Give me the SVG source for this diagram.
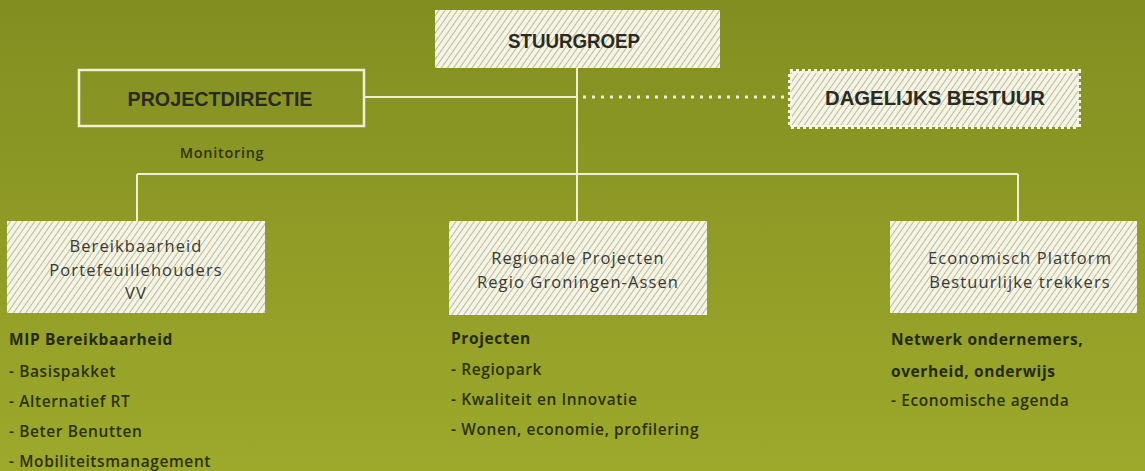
<svg xmlns="http://www.w3.org/2000/svg" width="1145" height="471" viewBox="0 0 1145 471">
<defs>
<linearGradient id="bg" x1="0" y1="0" x2="0" y2="1">
<stop offset="0" stop-color="#828e20"/>
<stop offset="1" stop-color="#9da92b"/>
</linearGradient>
<pattern id="hatch" width="5" height="5" patternUnits="userSpaceOnUse" patternTransform="rotate(35)">
<rect width="5" height="5" fill="#f6f5e4"/>
<line x1="0.5" y1="0" x2="0.5" y2="5" stroke="#b9b9a6" stroke-width="1"/>
</pattern>
<style>
.ln{stroke:#f1efcf;stroke-width:2;fill:none}
.dot{stroke:#f1efcf;stroke-width:3;stroke-dasharray:3 6;fill:none}
.hbox{fill:url(#hatch)}
.title{font-family:"Liberation Sans",Arial,sans-serif;font-weight:bold;font-size:20px;fill:#2a2a22;text-anchor:middle}
.btxt{font-family:"Open Sans","Liberation Sans",sans-serif;font-size:16.5px;letter-spacing:1.1px;fill:#3a3a33;text-anchor:middle}
.mon{font-family:"Open Sans","Liberation Sans",sans-serif;font-weight:600;font-size:14.5px;letter-spacing:0.7px;fill:#2e3210;text-anchor:middle}
.lh{font-family:"Open Sans","Liberation Sans",sans-serif;font-weight:bold;font-size:15.5px;letter-spacing:0.6px;fill:#262a0c}
.li{font-family:"Open Sans","Liberation Sans",sans-serif;font-weight:600;font-size:15.5px;letter-spacing:0.6px;fill:#2c300e}
</style>
</defs>
<rect width="1145" height="471" fill="url(#bg)"/>
<g id="connectors">
<line class="ln" x1="577" y1="68" x2="577" y2="221"/>
<line class="ln" x1="364" y1="97" x2="577" y2="97"/>
<line class="dot" x1="583" y1="97" x2="790" y2="97"/>
<line class="ln" x1="137" y1="174" x2="1018" y2="174"/>
<line class="ln" x1="137" y1="174" x2="137" y2="221"/>
<line class="ln" x1="1018" y1="174" x2="1018" y2="221"/>
</g>
<g id="stuurgroep">
<rect class="hbox" x="435" y="10" width="285" height="58"/>
<text class="title" x="574" y="48" textLength="132" lengthAdjust="spacingAndGlyphs">STUURGROEP</text>
</g>
<g id="projectdirectie">
<rect x="79" y="70" width="285" height="56" fill="none" stroke="#f1efcf" stroke-width="2.5"/>
<text class="title" x="220" y="106" textLength="185" lengthAdjust="spacingAndGlyphs">PROJECTDIRECTIE</text>
<text class="mon" x="222" y="158">Monitoring</text>
</g>
<g id="dagelijks">
<rect class="hbox" x="790" y="71" width="289" height="56" stroke="#f6f5e4" stroke-width="4" stroke-dasharray="3 3"/>
<text class="title" x="935" y="105" textLength="220" lengthAdjust="spacingAndGlyphs">DAGELIJKS BESTUUR</text>
</g>
<g id="bereikbaarheid">
<rect class="hbox" x="7" y="221" width="258" height="92"/>
<text class="btxt" x="136" y="252">Bereikbaarheid</text>
<text class="btxt" x="136" y="276">Portefeuillehouders</text>
<text class="btxt" x="136" y="299">VV</text>
</g>
<g id="regionale">
<rect class="hbox" x="449" y="221" width="258" height="94"/>
<text class="btxt" x="578" y="264">Regionale Projecten</text>
<text class="btxt" x="578" y="288">Regio Groningen-Assen</text>
</g>
<g id="economisch">
<rect class="hbox" x="890" y="221" width="247" height="92"/>
<text class="btxt" x="1020" y="264">Economisch Platform</text>
<text class="btxt" x="1020" y="288">Bestuurlijke trekkers</text>
</g>
<g id="list-left">
<text class="lh" x="9" y="345">MIP Bereikbaarheid</text>
<text class="li" x="9" y="377">- Basispakket</text>
<text class="li" x="9" y="407">- Alternatief RT</text>
<text class="li" x="9" y="437">- Beter Benutten</text>
<text class="li" x="9" y="467">- Mobiliteitsmanagement</text>
</g>
<g id="list-mid">
<text class="lh" x="451" y="344">Projecten</text>
<text class="li" x="451" y="375">- Regiopark</text>
<text class="li" x="451" y="405">- Kwaliteit en Innovatie</text>
<text class="li" x="451" y="435">- Wonen, economie, profilering</text>
</g>
<g id="list-right">
<text class="lh" x="891" y="345">Netwerk ondernemers,</text>
<text class="lh" x="891" y="377">overheid, onderwijs</text>
<text class="li" x="891" y="406">- Economische agenda</text>
</g>
</svg>
